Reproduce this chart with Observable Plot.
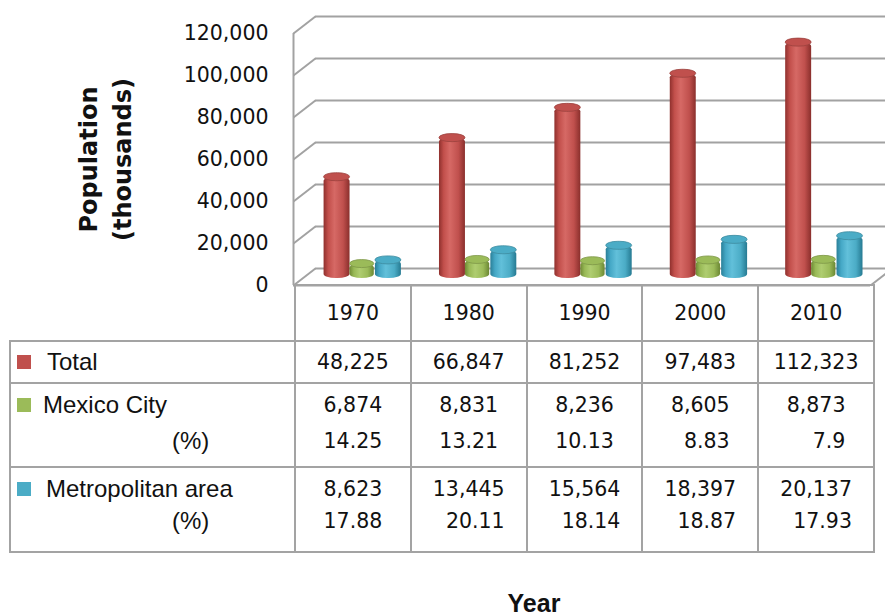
<!DOCTYPE html>
<html>
<head>
<meta charset="utf-8">
<script src="https://cdn.jsdelivr.net/npm/d3@7"></script>
<script src="https://cdn.jsdelivr.net/npm/@observablehq/plot@0.6"></script>
<style>
  body { margin: 0; background: #fff; }
  #wrap { position: relative; width: 885px; height: 616px; background: #fff; overflow: hidden; }
  #dt { position: absolute; left: 9px; top: 284px; border-collapse: collapse; table-layout: fixed; width: 864px; }
  #dt td { border: 2px solid #a3a3a3; padding: 0; font-family: "DejaVu Sans", sans-serif; font-size: 20.5px; color: #111; text-align: center; }
  #dt td.lab { text-align: left; font-family: "Liberation Sans", Arial, sans-serif; font-size: 24px; padding-left: 6px; }
  #dt td.top { vertical-align: top; }
  .sw { display: inline-block; width: 14px; height: 14px; vertical-align: 1px; }
  .num { display: inline-block; text-align: right; }
  #xtitle { position: absolute; left: 434px; width: 200px; top: 591px; text-align: center; font-family: "Liberation Sans", Arial, sans-serif; font-weight: bold; font-size: 25px; line-height: 24px; color: #111; }
</style>
</head>
<body>
<svg width="0" height="0" style="position:absolute">
  <defs>
    <linearGradient id="g0" x1="0" x2="1" y1="0" y2="0">
      <stop offset="0" stop-color="#8f302d"/>
      <stop offset="0.18" stop-color="#c24f4b"/>
      <stop offset="0.42" stop-color="#d66965"/>
      <stop offset="0.75" stop-color="#c0504d"/>
      <stop offset="1" stop-color="#8a2f2c"/>
    </linearGradient>
    <linearGradient id="g1" x1="0" x2="1" y1="0" y2="0">
      <stop offset="0" stop-color="#6f8a35"/>
      <stop offset="0.18" stop-color="#98b956"/>
      <stop offset="0.42" stop-color="#afcd70"/>
      <stop offset="0.75" stop-color="#9bbb59"/>
      <stop offset="1" stop-color="#6b8733"/>
    </linearGradient>
    <linearGradient id="g2" x1="0" x2="1" y1="0" y2="0">
      <stop offset="0" stop-color="#2a7f98"/>
      <stop offset="0.18" stop-color="#45a8c6"/>
      <stop offset="0.42" stop-color="#62c0da"/>
      <stop offset="0.75" stop-color="#4bacc6"/>
      <stop offset="1" stop-color="#267a92"/>
    </linearGradient>
  </defs>
</svg>
<div id="wrap"></div>
<script>
// ---- data ----
const years = ["1970", "1980", "1990", "2000", "2010"];
const total = [48225, 66847, 81252, 97483, 112323];
const mexicoCity = [6874, 8831, 8236, 8605, 8873];
const mexicoCityPct = ["14.25", "13.21", "10.13", "8.83", "7.9"];
const metroArea = [8623, 13445, 15564, 18397, 20137];
const metroAreaPct = ["17.88", "20.11", "18.14", "18.87", "17.93"];
const seriesNames = ["Total", "Mexico City", "Metropolitan area"];
const seriesColors = ["#c0504d", "#9bbb59", "#4bacc6"];
const yTicks = [0, 20000, 40000, 60000, 80000, 100000, 120000];
const yTitle = "Population\n(thousands)";
const xTitle = "Year";

// ---- layout helpers ----
const seriesValues = [total, mexicoCity, metroArea];
const barSlots = [[0.265, 0.49], [0.49, 0.70], [0.71, 0.935]];
const depthX = 0.19;     // 3D depth in category units
const depthY = 8100;     // 3D depth in value units
const yMax = 120000;
const n = years.length;

const bars = [];
seriesValues.forEach((vals, s) => vals.forEach((v, i) => {
  bars.push({s, year: years[i], value: v, x1: i + barSlots[s][0], x2: i + barSlots[s][1]});
}));

const grid = "#a2a2a2";
const marks = [
  // back wall grid lines
  Plot.ruleY(yTicks, {y: d => d + depthY, x1: depthX, x2: n + depthX + 0.2, stroke: grid, strokeWidth: 2}),
  // side diagonals
  Plot.link(yTicks, {x1: 0, y1: d => d, x2: depthX, y2: d => d + depthY, stroke: grid, strokeWidth: 2}),
  // front left edge
  Plot.ruleX([0], {y1: 0, y2: yMax, stroke: grid, strokeWidth: 2}),
  // floor front edge + right diagonal
  Plot.ruleY([0], {x1: 0, x2: n, stroke: grid, strokeWidth: 2}),
  Plot.link([0], {x1: n, y1: 0, x2: n + depthX, y2: depthY, stroke: grid, strokeWidth: 2}),
];
seriesValues.forEach((vals, s) => {
  const data = bars.filter(d => d.s === s);
  marks.push(Plot.rectY(data, {x1: "x1", x2: "x2", y1: 0, y2: "value", fill: `url(#g${s})`, rx: 12, ry: 4, dy: -7}));
  marks.push(Plot.rectY(data, {x1: "x1", x2: "x2", y1: "value", y2: "value", insetTop: -4, insetBottom: -4, fill: seriesColors[s], stroke: d3.color(seriesColors[s]).darker(0.6).formatHex(), strokeWidth: 0.8, rx: 12, ry: 4, dy: -7}));
});
marks.push(Plot.text([yTitle], {frameAnchor: "left", textAnchor: "middle", rotate: -90, dx: -190, fontSize: 24, fontWeight: "bold", fontFamily: "DejaVu Sans", lineHeight: 1.4, fill: "#111"}));

const chart = Plot.plot({
  width: 885,
  height: 288,
  marginLeft: 293,
  marginRight: 15,
  marginTop: 33,
  marginBottom: 3,
  style: {fontFamily: "DejaVu Sans", fontSize: "20.5px", color: "#111", background: "transparent", overflow: "visible"},
  x: {type: "linear", domain: [0, n], axis: null},
  y: {domain: [0, yMax], ticks: yTicks, tickFormat: d3.format(","), tickSize: 0, tickPadding: 25, label: null},
  marks
});
chart.style.overflow = "visible";
const wrap = document.getElementById("wrap");
wrap.appendChild(chart);

// ---- data table (legend) below the chart ----
const fmt = d3.format(",");
let html = '<table id="dt"><colgroup><col style="width:285px">' + years.map(() => '<col style="width:115.8px">').join("") + '</colgroup>';
html += '<tr style="height:56px"><td style="border-top:none;border-left:none"></td>' + years.map(y => `<td>${y}</td>`).join("") + '</tr>';
html += `<tr style="height:42px"><td class="lab"><span class="sw" style="background:${seriesColors[0]}"></span><span style="margin-left:16px">${seriesNames[0]}</span></td>` +
  total.map(v => `<td>${fmt(v)}</td>`).join("") + '</tr>';
html += `<tr style="height:84px"><td class="lab top" style="padding-top:3px;line-height:36px"><div><span class="sw" style="background:${seriesColors[1]}"></span><span style="margin-left:12px">${seriesNames[1]}</span></div><div style="padding-left:155px">(%)</div></td>` +
  mexicoCity.map((v, i) => `<td class="top" style="padding-top:3px;line-height:36px"><div class="num">${fmt(v)}<br>${mexicoCityPct[i]}</div></td>`).join("") + '</tr>';
html += `<tr style="height:85px"><td class="lab top" style="padding-top:5px;line-height:32px"><div><span class="sw" style="background:${seriesColors[2]}"></span><span style="margin-left:15px">${seriesNames[2]}</span></div><div style="padding-left:155px">(%)</div></td>` +
  metroArea.map((v, i) => `<td class="top" style="padding-top:5px;line-height:32px"><div class="num">${fmt(v)}<br>${metroAreaPct[i]}</div></td>`).join("") + '</tr>';
html += '</table>';
wrap.insertAdjacentHTML("beforeend", html);
wrap.insertAdjacentHTML("beforeend", `<div id="xtitle">${xTitle}</div>`);
</script>
</body>
</html>
